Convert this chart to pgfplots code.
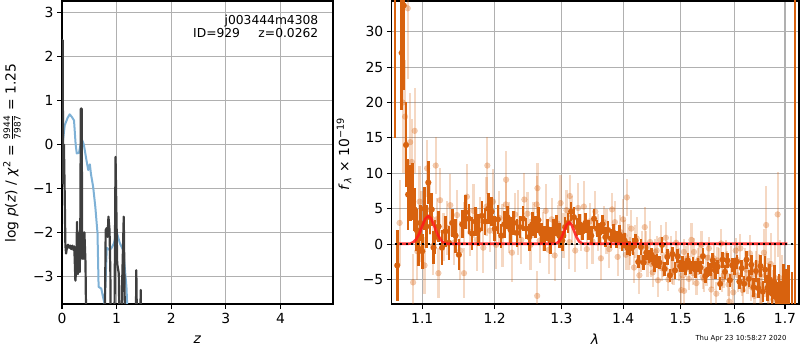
\documentclass[border=0pt]{standalone}
\usepackage{amsmath}
\usepackage{fontspec}
\setmainfont{DejaVu Sans}
\usepackage{pgfplots}
\pgfplotsset{compat=1.18}
\usepackage{pgfplotstable}
\definecolor{dk}{RGB}{62,62,62}
\definecolor{bl}{RGB}{126,177,214}
\definecolor{org}{RGB}{216,98,14}
\definecolor{gridc}{RGB}{176,176,176}
\newcommand{\tfs}{\fontsize{13.9}{16}\selectfont}

\pgfplotstableread{
x y e
1.0646 40 25
1.0675 -3 5
1.0732 27 8
1.0759 33.7 12
1.0788 14.0 6
1.0815 7.0 5
1.0842 7.2 4
1.0869 7.4 4
1.0898 4.9 3
1.0925 2.0 3
1.0948 -0.6 2.5
1.0975 3.0 2.5
1.1000 -1.0 2.5
1.1030 5.0 3
1.1055 2.5 3
1.1080 8.7 3
1.1103 3.8 2.4
1.1126 4.9 2.3
1.1150 -0.5 2.3
1.1172 1.0 2.4
1.1218 2.5 2.2
1.1264 -0.5 2.5
1.1310 1.8 2.2
1.1356 0.2 2.4
1.1402 3.0 2.0
1.1448 1.2 2.4
1.1494 -1.5 2.2
1.1540 2.8 2.0
1.1586 4.5 2.4
1.1632 3.6 2.1
1.1678 1.5 2.3
1.1724 3.2 2.0
1.1770 2.0 2.3
1.1816 4.0 2.1
1.1862 3.2 1.9
1.1908 5.0 2.2
1.1954 4.6 2.0
1.2000 2.2 1.8
1.2046 3.5 2.0
1.2092 1.2 1.7
1.2138 2.8 1.9
1.2184 3.8 1.6
1.2230 2.0 1.8
1.2276 3.0 1.7
1.2322 1.6 2.0
1.2368 2.4 1.6
1.2414 3.6 1.8
1.2460 2.2 1.5
1.2506 1.0 1.9
1.2552 2.8 1.7
1.2598 2.4 1.6
1.2644 3.4 1.8
1.2690 1.5 1.5
1.2736 0.8 1.8
1.2782 2.0 1.6
1.2828 0.5 1.9
1.2874 1.8 1.7
1.2920 2.6 1.5
1.2966 1.2 1.8
1.3012 0.5 1.4
1.3058 2.4 1.5
1.3104 3.0 1.4
1.3150 4.6 1.3
1.3196 3.8 1.4
1.3242 2.4 1.3
1.3288 2.8 1.5
1.3334 1.8 1.2
1.3380 3.0 1.4
1.3426 2.0 1.4
1.3472 1.2 1.3
1.3518 3.6 1.4
1.3564 2.2 1.2
1.3610 1.6 1.4
1.3656 2.8 1.3
1.3702 1.0 1.4
1.3748 2.0 1.2
1.3794 0.8 1.4
1.3840 1.6 1.3
1.3886 0.6 1.2
1.3932 1.4 1.3
1.3978 0.2 1.2
1.4024 0.5 1.1
1.4070 -0.5 1.0
1.4116 -0.6 1.1
1.4162 -0.4 1.2
1.4208 0.5 1.0
1.4254 -2.5 0.9
1.4300 -0.4 1.1
1.4346 -2.6 1.0
1.4392 -1.2 1.1
1.4438 -1.7 0.9
1.4484 -1.5 1.0
1.4530 -2.7 1.2
1.4576 -2.4 1.0
1.4622 -2.6 0.9
1.4668 -0.1 1.1
1.4714 -3.5 1.0
1.4760 -1.8 1.1
1.4806 -4.4 0.9
1.4852 -1.4 1.0
1.4898 -3.7 1.2
1.4944 -1.7 1.0
1.4990 -3.1 0.9
1.5036 -2.8 1.1
1.5082 -3.4 1.0
1.5128 -2.3 1.1
1.5174 -3.3 0.9
1.5220 -2.8 1.0
1.5266 -3.6 1.2
1.5312 -3.0 1.0
1.5358 -3.3 0.9
1.5404 -1.7 1.1
1.5450 -4.5 1.0
1.5496 -3.6 1.1
1.5542 -3.6 0.9
1.5588 -2.3 1.0
1.5634 -3.7 1.2
1.5680 -3.2 1.0
1.5726 -5.6 0.9
1.5772 -2.2 1.1
1.5818 -3.9 1.0
1.5864 -2.3 1.1
1.5910 -5.1 0.9
1.5956 -3.0 1.0
1.6002 -3.2 1.2
1.6048 -2.5 1.0
1.6094 -5.3 1.0
1.6140 -3.4 1.2
1.6186 -5.6 1.1
1.6232 -2.2 1.3
1.6278 -4.9 1.2
1.6324 -2.9 1.4
1.6370 -6.1 1.3
1.6416 -3.8 1.5
1.6462 -6.2 1.4
1.6508 -3.1 1.6
1.6554 -6.7 1.5
1.6600 -3.6 1.9
1.6646 -6.2 1.8
1.6692 -5.0 2.2
1.6738 -7.0 2.0
1.6784 -5.4 2.4
1.6830 -7.6 2.2
1.6876 -6.8 2.6
1.6922 -8.0 2.8
1.6968 -6.0 3.2
1.7014 -7.5 4.0
1.7070 -9 6
1.7139 -10 6
1.7207 40 55
}\darkpts

\pgfplotstableread{
x y e
1.0705 3.0 6
1.0745 20.0 10
1.0775 18.0 8
1.0810 33.3 10
1.0842 14.4 7
1.0862 11.6 6
1.0880 -5.4 4
1.0900 16.0 6
1.0935 -1.0 4
1.0965 6.0 5
1.0990 2.5 5
1.1030 -3.0 4
1.1064 10.7 4
1.1100 4.9 3.6
1.1146 -0.2 4.2
1.1179 11.1 4
1.1192 3.5 3.0
1.1215 -4.1 3.5
1.1238 6.2 4.6
1.1284 1.0 3.4
1.1330 2.3 3.8
1.1376 5.5 4.4
1.1422 0.2 3.2
1.1468 4.1 3.6
1.1514 -0.9 4.2
1.1560 2.9 3.0
1.1565 -4.1 3.5
1.1606 6.7 4.6
1.1652 1.7 3.4
1.1698 4.7 3.8
1.1744 0.6 4.4
1.1790 3.4 3.2
1.1836 -0.5 3.6
1.1882 5.3 4.2
1.1893 11.1 4
1.1928 1.9 3.0
1.1974 6.0 4.6
1.2020 -0.1 3.4
1.2066 3.7 3.8
1.2112 1.2 4.4
1.2158 5.6 3.2
1.2164 9.1 4
1.2204 2.4 3.6
1.2250 -1.2 4.2
1.2296 4.2 3.0
1.2342 3.0 4.6
1.2388 0.6 3.4
1.2434 6.3 3.8
1.2480 4.3 3.0
1.2526 -0.1 3.6
1.2572 3.4 2.6
1.2618 5.6 4.0
1.2626 -7.3 3.5
1.2630 7.9 3.5
1.2664 0.5 3.2
1.2710 1.8 2.8
1.2756 4.7 3.8
1.2802 -0.8 3.4
1.2848 3.5 3.0
1.2894 -1.6 3.6
1.2940 2.9 2.6
1.2986 5.8 4.0
1.3032 1.2 3.2
1.3078 4.8 2.8
1.3124 0.3 3.8
1.3130 6.8 3
1.3170 3.4 3.4
1.3216 -0.9 3.0
1.3262 5.1 3.6
1.3308 1.7 2.6
1.3354 5.3 3.6
1.3400 -0.7 2.8
1.3446 3.2 2.6
1.3492 0.4 3.2
1.3538 4.6 2.9
1.3584 1.6 2.6
1.3630 -2.0 3.0
1.3676 3.1 2.3
1.3722 1.8 3.2
1.3768 -0.7 2.6
1.3814 4.9 2.3
1.3860 3.1 3.0
1.3906 -1.8 2.7
1.3952 1.7 2.4
1.3998 3.5 2.9
1.4021 1.2 2.2
1.4044 -1.5 2.1
1.4060 6.6 2.6
1.4090 -0.4 3.2
1.4113 -1.0 2.0
1.4136 2.2 2.6
1.4182 -3.3 2.2
1.4205 0.4 2.3
1.4228 0.8 3.0
1.4274 -4.4 2.7
1.4297 -2.0 2.0
1.4320 -0.5 2.4
1.4366 2.4 2.9
1.4389 -0.4 2.2
1.4412 -2.5 2.1
1.4458 0.3 3.0
1.4481 -2.8 1.9
1.4504 -4.0 2.0
1.4550 -1.1 1.8
1.4573 -0.9 2.1
1.4596 -5.1 2.3
1.4642 0.6 2.1
1.4665 -3.4 1.8
1.4688 -2.9 1.8
1.4734 0.9 2.2
1.4757 -1.5 2.0
1.4780 -5.0 1.6
1.4826 -1.3 2.4
1.4849 -3.9 1.7
1.4872 -3.9 1.9
1.4918 0.2 1.7
1.4941 -1.8 2.1
1.4964 -2.9 2.3
1.5010 -6.5 2.0
1.5033 -4.4 1.8
1.5056 -1.1 1.8
1.5060 -6.6 1.9
1.5102 -2.4 2.2
1.5125 -2.0 2.0
1.5148 -4.9 1.6
1.5194 0.6 2.4
1.5217 -4.1 1.7
1.5240 -1.1 1.9
1.5286 -5.5 1.7
1.5309 -2.4 1.9
1.5332 -2.1 2.3
1.5378 -0.1 2.0
1.5401 -4.6 1.8
1.5424 -4.9 1.8
1.5470 -3.7 2.2
1.5493 -1.9 2.1
1.5516 -0.6 1.6
1.5562 -6.4 2.4
1.5585 -4.5 1.7
1.5608 -2.0 1.9
1.5654 -7.0 1.7
1.5677 -2.3 1.9
1.5700 -2.9 2.3
1.5746 0.1 2.0
1.5769 -5.0 1.8
1.5792 -4.4 1.8
1.5838 -1.6 2.2
1.5861 -3.0 2.0
1.5884 -5.7 1.6
1.5900 -8.1 1.9
1.5930 -2.7 2.4
1.5953 -4.6 1.8
1.5976 -6.8 1.9
1.6022 -0.9 1.7
1.6045 -2.2 2.1
1.6068 -4.4 2.3
1.6114 -0.6 2.0
1.6137 -5.4 1.9
1.6160 -6.5 1.8
1.6206 -2.8 2.2
1.6229 -3.6 2.2
1.6252 -5.4 1.7
1.6298 -1.3 2.6
1.6321 -6.0 2.0
1.6344 -4.4 2.2
1.6390 -7.3 2.0
1.6413 -3.4 2.5
1.6436 -2.7 2.8
1.6482 -4.0 2.6
1.6505 -5.8 2.6
1.6528 -6.6 2.4
1.6574 -1.2 3.4
1.6597 -4.4 3.0
1.6620 2.7 5.5
1.6650 -6.0 3.4
1.6666 -6.0 4.0
1.6712 -2.8 4.4
1.6758 -7.8 4.2
1.6804 -4.8 5.0
1.6850 4.2 6.0
1.6896 -4.8 5.4
1.6942 -7.4 5.8
}\lightpts

\begin{document}
\begin{tikzpicture}[x=1pt,y=1pt]
\path[use as bounding box] (0,0) rectangle (800,350);

\pgfplotsset{
  commonax/.style={
    scale only axis, anchor=south west,
    height=303pt,
    tick align=outside, major tick length=4.9pt,
    xtick pos=bottom, ytick pos=left,
    every tick/.style={black, line width=1.1pt},
    axis line style={line width=1.1pt},
    grid=major, grid style={gridc, line width=1.1pt},
    tick label style={font=\tfs},
    xticklabel style={yshift=-1pt},
    minor xtick={}, minor ytick={},
    clip marker paths=true,
  }
}

\begin{axis}[commonax,
  at={(62pt,46pt)}, width=271pt,
  xmin=0, xmax=4.96, ymin=-3.63, ymax=3.27,
  xtick={0,1,2,3,4}, xticklabels={0,1,2,3,4},
  ytick={-3,-2,-1,0,1,2,3},
  yticklabels={−3,−2,−1,0,1,2,3},
]
\addplot[bl, line width=2pt, line join=round] coordinates {
(0.0,-0.1) (0.05,0.44) (0.10,0.6) (0.14,0.69) (0.18,0.63) (0.22,0.55)
(0.25,0.0) (0.27,-0.2) (0.31,-0.19) (0.34,0.0) (0.37,0.1) (0.40,0.0)
(0.44,-0.3) (0.48,-0.58) (0.51,-0.45) (0.53,-0.67) (0.57,-0.96) (0.61,-1.42)
(0.65,-2.02) (0.67,-3.24) (0.72,-3.28) (0.75,-3.47) (0.78,-3.62) (0.80,-3.0)
(0.82,-2.35) (0.87,-2.4) (0.91,-2.35) (0.95,-2.25) (1.0,-1.99) (1.06,-2.25)
(1.12,-2.4) (1.18,-3.24) (1.22,-4.5) (1.30,-6)
};
\addplot[dk, line width=2.2pt, line join=round] coordinates {
(0.0,-0.9) (0.012,2.38) (0.02,-0.5) (0.035,0.0) (0.048,-1.0) (0.062,-2.3)
(0.075,-2.48) (0.09,-2.35) (0.11,-2.28) (0.13,-2.35) (0.15,-2.3) (0.17,-2.38)
(0.19,-2.3) (0.21,-2.4) (0.225,-2.32) (0.245,-3.1) (0.26,-2.85) (0.275,-1.76)
(0.29,-2.95) (0.305,-2.4) (0.315,-2.0) (0.325,-2.9) (0.335,-1.9) (0.345,0.82)
(0.36,0.82) (0.37,-2.6) (0.385,-2.0) (0.40,-2.6) (0.41,-2.0) (0.43,-2.7)
(0.46,-6) (0.76,-6) (0.78,-4.5) (0.80,-1.95) (0.82,-1.9) (0.835,-2.1)
(0.85,-1.64) (0.87,-1.95) (0.885,-2.9) (0.90,-6) (0.95,-6) (0.98,-0.28)
(1.01,-2.71) (1.04,-2.94) (1.07,-6) (1.10,-3.2) (1.13,-1.64) (1.17,-6)
(1.34,-6) (1.36,-2.86) (1.39,-6) (1.42,-6) (1.44,-3.31) (1.47,-6) (2,-6)
};
\end{axis}

\begin{axis}[commonax,
  at={(391.7pt,46pt)}, width=407.3pt,
  xmode=log,
  xmin=1.0604, xmax=1.7288, ymin=-8.45, ymax=34.33,
  xtick={1.1,1.2,1.3,1.4,1.5,1.6,1.7},
  xticklabels={1.1,1.2,1.3,1.4,1.5,1.6,1.7},
  ytick={-5,0,5,10,15,20,25,30},
  yticklabels={−5,0,5,10,15,20,25,30},
]
\addplot[org, only marks, mark=*, mark size=3pt,
  mark options={fill=org, draw=org, line width=0.05pt, opacity=0.33},
  error bars/.cd, y dir=both, y explicit,
  error mark=none,
  error bar style={org, draw opacity=0.25, line width=2.2pt}]
  table[x=x, y=y, y error=e] {\lightpts};
\addplot[org, only marks, mark=*, mark size=3pt,
  mark options={fill=org, draw=org, line width=0.05pt},
  error bars/.cd, y dir=both, y explicit,
  error mark=none,
  error bar style={org, line width=2.6pt}]
  table[x=x, y=y, y error=e] {\darkpts};
\addplot[red!90!white, opacity=0.85, line width=2.6pt, line join=round] coordinates {
(1.070,0.05) (1.080,0.05) (1.084,0.07) (1.088,0.25) (1.092,0.68) (1.096,1.48)
(1.100,2.57) (1.104,3.58) (1.108,4.0) (1.112,3.58) (1.116,2.57) (1.120,1.48)
(1.124,0.68) (1.128,0.25) (1.132,0.07) (1.136,0.05)
(1.288,0.05) (1.292,0.11) (1.296,0.36) (1.300,0.92) (1.304,1.81) (1.308,2.71)
(1.312,3.1) (1.316,2.71) (1.320,1.81) (1.324,0.92) (1.328,0.36) (1.332,0.11)
(1.336,0.05) (1.705,0.05)
};
\addplot[black, line width=1.8pt, dash pattern=on 2pt off 3.5pt] coordinates {
(1.064,0) (1.7207,0)
};
\end{axis}

\node[anchor=north east, align=right, font=\fontsize{12.3}{13.5}\selectfont, inner sep=0pt]
  at (318.5,335.5) {j003444m4308\\ID=929\quad\enspace z=0.0262};
\node[font=\tfs] at (197.5,10) {\textit{z}};
\node[font=\tfs] at (595,11) {\textit{λ}};
\node[rotate=90, font=\tfs] at (12,197) {log \textit{p}(\textit{z}) / \textit{χ}\textsuperscript{2} = $\frac{\hbox{\fontsize{9}{9}\selectfont 9944}}{\hbox{\fontsize{9}{9}\selectfont 7987}}$ = 1.25};
\node[rotate=90, font=\tfs] at (344,196) {\textit{f}\textsubscript{\textit{λ}} × 10\textsuperscript{−19}};
\node[anchor=east, font=\fontsize{6.9}{8}\selectfont, inner sep=0pt] at (786.7,11.7) {Thu Apr 23 10:58:27 2020};
\end{tikzpicture}
\end{document}
